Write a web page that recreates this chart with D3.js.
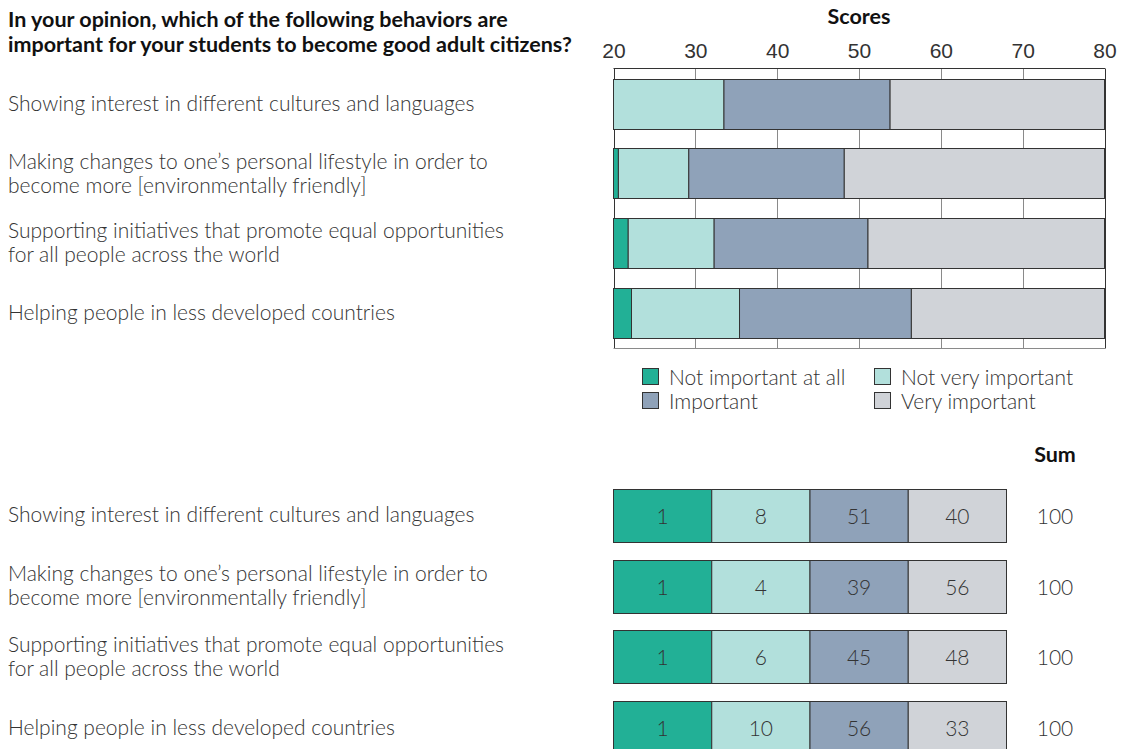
<!DOCTYPE html>
<html>
<head>
<meta charset="utf-8">
<script src="https://cdn.jsdelivr.net/npm/d3@7"></script>
<style>
  html, body { margin: 0; padding: 0; background: #fff; }
  svg { display: block; font-family: Lato, "Open Sans", sans-serif; }
  .lbl { font-size: 21px; font-weight: 300; fill: #333; }
  .bold { font-size: 21.5px; font-weight: 700; fill: #111; }
</style>
</head>
<body>
<svg id="chart" width="1121" height="749"></svg>
<script>
// Survey items (one entry per line of the label)
const items = [
  ["Showing interest in different cultures and languages"],
  ["Making changes to one\u2019s personal lifestyle in order to", "become more [environmentally friendly]"],
  ["Supporting initiatives that promote equal opportunities", "for all people across the world"],
  ["Helping people in less developed countries"]
];
const title = [
  "In your opinion, which of the following behaviors are",
  "important for your students to become good adult citizens?"
];
const categories = ["Not important at all", "Not very important", "Important", "Very important"];
const categoryColors = ["#22b096", "#b2e0dc", "#8fa2b9", "#d0d3d8"];

// Scale-score thresholds where each response category ends
const cutNotAtAll = [20, 20.6, 21.8, 22.2];
const cutNotVery = [33.5, 29.2, 32.3, 35.4];
const cutImportant = [53.8, 48.2, 51.1, 56.4];
const scoreDomain = [20, 80];
const scoreTicks = [20, 30, 40, 50, 60, 70, 80];

// Percent of respondents per response category
const pctNotAtAll = [1, 1, 1, 1];
const pctNotVery = [8, 4, 6, 10];
const pctImportant = [51, 39, 45, 56];
const pctVery = [40, 56, 48, 33];

const svg = d3.select("#chart");
const ink = "#333";
const gridInk = "#8a8a8a";

// ---------- Title ----------
svg.append("text").attr("class", "bold").attr("x", 8).attr("y", 27)
  .selectAll("tspan").data(title).join("tspan")
  .attr("x", 8).attr("dy", (d, i) => i ? 25 : 0).text(d => d);

// ---------- Upper panel: score ranges ----------
const panel = { x0: 613.5, x1: 1104.5, y0: 68.5, y1: 348.5, tickLen: 10 };
const x = d3.scaleLinear().domain(scoreDomain).range([panel.x0, panel.x1]);
const yTop = d3.scaleBand().domain(d3.range(items.length))
  .range([panel.y0 + panel.tickLen, panel.y1 - panel.tickLen]).paddingInner(0.281).paddingOuter(0);

svg.append("text").attr("class", "bold").attr("x", x(50)).attr("y", 24)
  .attr("text-anchor", "middle").text("Scores");

// Axis with tick labels above the frame
const axis = svg.append("g").attr("transform", `translate(0,${panel.y0})`)
  .call(d3.axisTop(x).tickValues(scoreTicks).tickSize(0).tickPadding(11));
axis.select(".domain").remove();
axis.selectAll("text").attr("class", "lbl").attr("font-family", null).attr("font-size", null)
  .attr("fill", null);

// Vertical grid lines through the whole panel
svg.append("g").selectAll("line").data(scoreTicks).join("line")
  .attr("x1", d => Math.round(x(d)) + 0.5).attr("x2", d => Math.round(x(d)) + 0.5)
  .attr("y1", panel.y0).attr("y2", panel.y1)
  .attr("stroke", (d, i) => (i === 0 || i === scoreTicks.length - 1) ? ink : gridInk)
  .attr("stroke-width", 1);
svg.append("line").attr("x1", panel.x0).attr("x2", panel.x1 + 0.5)
  .attr("y1", panel.y0).attr("y2", panel.y0).attr("stroke", ink);
svg.append("line").attr("x1", panel.x0).attr("x2", panel.x1 + 0.5)
  .attr("y1", panel.y1).attr("y2", panel.y1).attr("stroke", gridInk);

// Stacked segments per item
const segments = items.flatMap((it, i) => {
  const bounds = [scoreDomain[0], cutNotAtAll[i], cutNotVery[i], cutImportant[i], scoreDomain[1]];
  return categories.map((c, k) => ({ row: i, k, from: bounds[k], to: bounds[k + 1] }));
});
svg.append("g").selectAll("rect").data(segments.filter(s => s.to > s.from)).join("rect")
  .attr("x", d => x(d.from)).attr("width", d => x(d.to) - x(d.from))
  .attr("y", d => Math.round(yTop(d.row)) + 0.5).attr("height", Math.round(yTop.bandwidth()))
  .attr("fill", d => categoryColors[d.k]).attr("stroke", ink).attr("stroke-width", 1);

// Item labels, vertically centred on each row
function drawLabels(yCenter) {
  svg.append("g").selectAll("text").data(items).join("text")
    .attr("class", "lbl")
    .attr("y", (d, i) => yCenter(i) - (d.length - 1) * 12 + 7)
    .each(function (d) {
      d3.select(this).selectAll("tspan").data(d).join("tspan")
        .attr("x", 8).attr("dy", (t, j) => j ? 24 : 0).text(t => t);
    });
}
drawLabels(i => yTop(i) + yTop.bandwidth() / 2);

// ---------- Legend ----------
const legendCols = [642, 874];
const legendRows = [377, 401];
const legend = svg.append("g").selectAll("g").data(categories).join("g")
  .attr("transform", (d, i) => `translate(${legendCols[i % 2]},${legendRows[Math.floor(i / 2)]})`);
legend.append("rect").attr("x", 0.5).attr("y", -8.5).attr("width", 16).attr("height", 16)
  .attr("fill", (d, i) => categoryColors[i]).attr("stroke", ink);
legend.append("text").attr("class", "lbl").attr("x", 27).attr("y", 7.5).text(d => d);

// ---------- Lower panel: percentages ----------
const pct = items.map((it, i) => [pctNotAtAll[i], pctNotVery[i], pctImportant[i], pctVery[i]]);
const xCell = d3.scaleBand().domain(categories).range([613.5, 1006.5]);
const yRow = d3.scaleBand().domain(d3.range(items.length)).range([489, 754]).paddingInner(0.252).paddingOuter(0);

svg.append("text").attr("class", "bold").attr("x", 1055).attr("y", 462)
  .attr("text-anchor", "middle").text("Sum");

const rows = svg.append("g").selectAll("g").data(pct).join("g")
  .attr("transform", (d, i) => `translate(0,${Math.round(yRow(i)) + 0.5})`);
rows.selectAll("rect").data(d => d).join("rect")
  .attr("x", (d, k) => xCell(categories[k])).attr("width", xCell.bandwidth())
  .attr("y", 0).attr("height", Math.round(yRow.bandwidth()))
  .attr("fill", (d, k) => categoryColors[k]).attr("stroke", ink);
rows.selectAll("text.val").data(d => d).join("text")
  .attr("class", "lbl val")
  .attr("x", (d, k) => xCell(categories[k]) + xCell.bandwidth() / 2)
  .attr("y", yRow.bandwidth() / 2 + 8).attr("text-anchor", "middle").text(d => d);
rows.append("text").attr("class", "lbl").attr("x", 1055)
  .attr("y", yRow.bandwidth() / 2 + 8).attr("text-anchor", "middle")
  .text(d => d3.sum(d));

drawLabels(i => yRow(i) + yRow.bandwidth() / 2);
</script>
</body>
</html>
